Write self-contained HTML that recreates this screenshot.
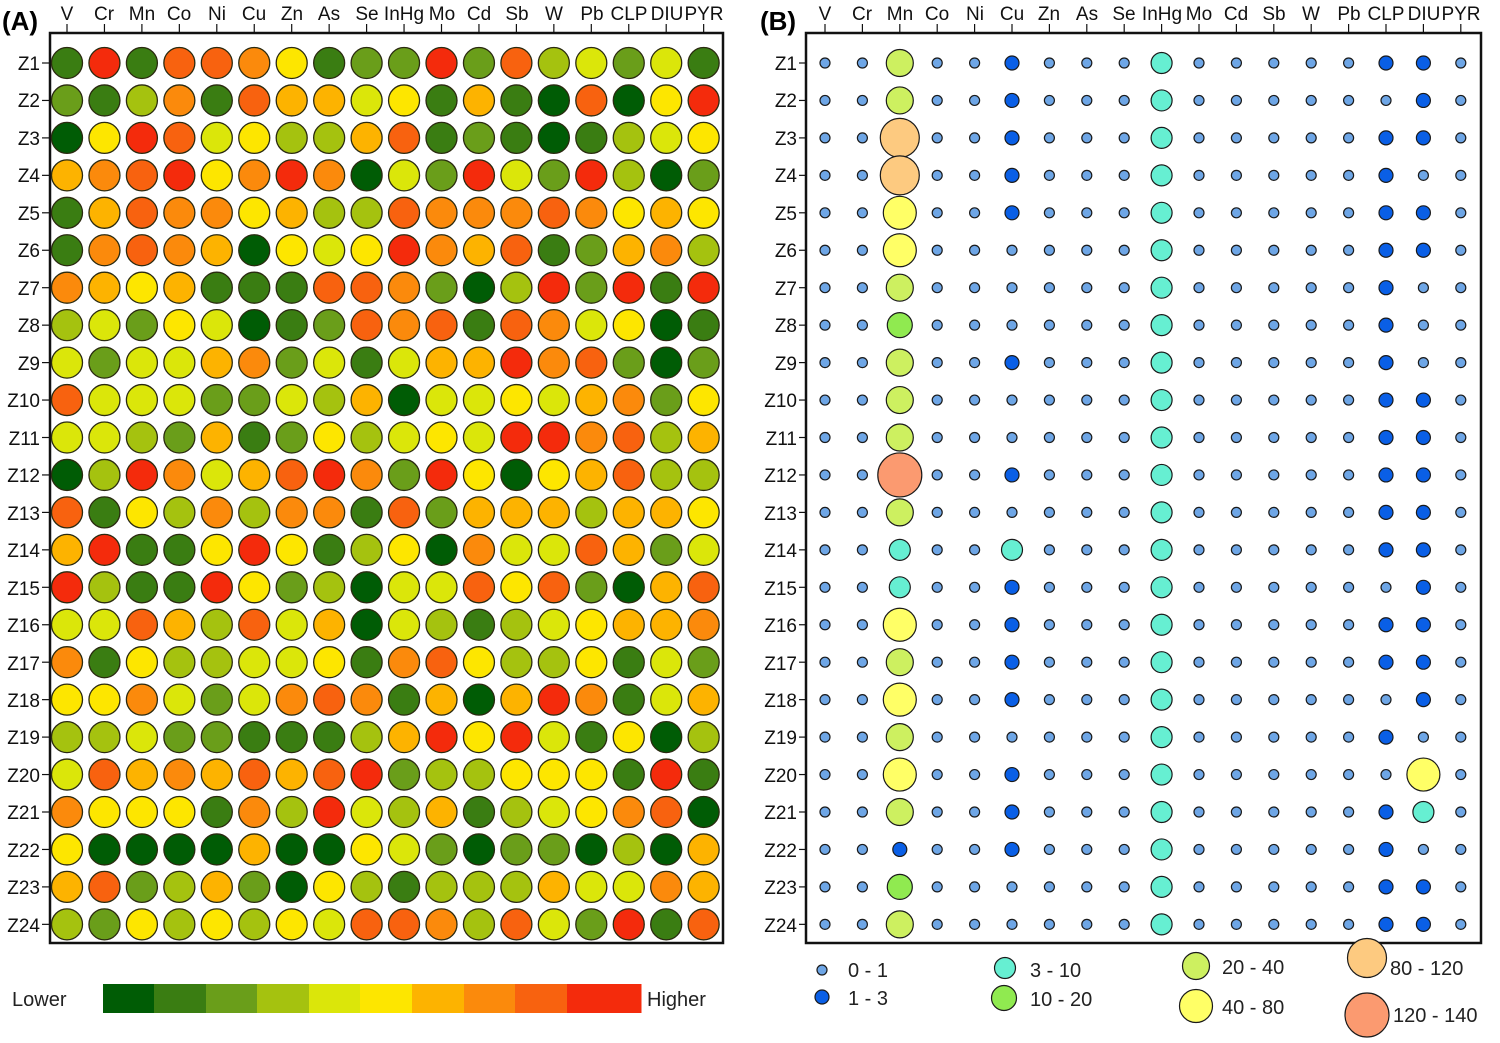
<!DOCTYPE html>
<html><head><meta charset="utf-8"><style>
html,body{margin:0;padding:0;background:#fff;}
svg{display:block;font-family:"Liberation Sans",Arial,sans-serif;}
.cl{font-size:19px;text-anchor:middle;fill:#111;}
.rl{font-size:19px;text-anchor:end;fill:#111;}
.lg{font-size:20px;fill:#222;}
</style></head><body>
<svg id="s" width="1500" height="1043" viewBox="0 0 1500 1043" xmlns="http://www.w3.org/2000/svg">
<rect width="1500" height="1043" fill="#fff"/>
<text x="2" y="30" font-size="26" font-weight="bold">(A)</text>
<text x="760" y="30" font-size="26" font-weight="bold">(B)</text>
<g class="cl">
<text x="67" y="20">V</text><text x="104" y="20">Cr</text><text x="142" y="20">Mn</text><text x="179" y="20">Co</text><text x="217" y="20">Ni</text><text x="254" y="20">Cu</text><text x="292" y="20">Zn</text><text x="329" y="20">As</text><text x="367" y="20">Se</text><text x="404" y="20">InHg</text><text x="442" y="20">Mo</text><text x="479" y="20">Cd</text><text x="517" y="20">Sb</text><text x="554" y="20">W</text><text x="592" y="20">Pb</text><text x="629" y="20">CLP</text><text x="667" y="20">DIU</text><text x="704" y="20">PYR</text>
<text x="825" y="20">V</text><text x="862" y="20">Cr</text><text x="900" y="20">Mn</text><text x="937" y="20">Co</text><text x="975" y="20">Ni</text><text x="1012" y="20">Cu</text><text x="1049" y="20">Zn</text><text x="1087" y="20">As</text><text x="1124" y="20">Se</text><text x="1162" y="20">InHg</text><text x="1199" y="20">Mo</text><text x="1236" y="20">Cd</text><text x="1274" y="20">Sb</text><text x="1311" y="20">W</text><text x="1349" y="20">Pb</text><text x="1386" y="20">CLP</text><text x="1424" y="20">DIU</text><text x="1461" y="20">PYR</text>
</g>
<g class="rl">
<text x="40" y="70">Z1</text><text x="40" y="107">Z2</text><text x="40" y="145">Z3</text><text x="40" y="182">Z4</text><text x="40" y="220">Z5</text><text x="40" y="257">Z6</text><text x="40" y="295">Z7</text><text x="40" y="332">Z8</text><text x="40" y="370">Z9</text><text x="40" y="407">Z10</text><text x="40" y="445">Z11</text><text x="40" y="482">Z12</text><text x="40" y="520">Z13</text><text x="40" y="557">Z14</text><text x="40" y="595">Z15</text><text x="40" y="632">Z16</text><text x="40" y="670">Z17</text><text x="40" y="707">Z18</text><text x="40" y="744">Z19</text><text x="40" y="782">Z20</text><text x="40" y="819">Z21</text><text x="40" y="857">Z22</text><text x="40" y="894">Z23</text><text x="40" y="932">Z24</text>
<text x="797" y="70">Z1</text><text x="797" y="107">Z2</text><text x="797" y="145">Z3</text><text x="797" y="182">Z4</text><text x="797" y="220">Z5</text><text x="797" y="257">Z6</text><text x="797" y="295">Z7</text><text x="797" y="332">Z8</text><text x="797" y="370">Z9</text><text x="797" y="407">Z10</text><text x="797" y="445">Z11</text><text x="797" y="482">Z12</text><text x="797" y="520">Z13</text><text x="797" y="557">Z14</text><text x="797" y="595">Z15</text><text x="797" y="632">Z16</text><text x="797" y="670">Z17</text><text x="797" y="707">Z18</text><text x="797" y="744">Z19</text><text x="797" y="782">Z20</text><text x="797" y="819">Z21</text><text x="797" y="857">Z22</text><text x="797" y="894">Z23</text><text x="797" y="932">Z24</text>
</g>
<rect x="50" y="33" width="673" height="910" fill="none" stroke="#111" stroke-width="2.5"/>
<rect x="806" y="33" width="675" height="910" fill="none" stroke="#111" stroke-width="2.5"/>
<g id="dyn"></g>
<text class="lg" x="12" y="1006" font-size="23">Lower</text>
<text class="lg" x="647" y="1006" font-size="23">Higher</text>
<g id="bar"></g>
<text class="lg" x="848" y="977">0 - 1</text>
<text class="lg" x="848" y="1005">1 - 3</text>
<text class="lg" x="1030" y="977">3 - 10</text>
<text class="lg" x="1030" y="1006">10 - 20</text>
<text class="lg" x="1222" y="974">20 - 40</text>
<text class="lg" x="1222" y="1014">40 - 80</text>
<text class="lg" x="1390" y="975">80 - 120</text>
<text class="lg" x="1393" y="1022">120 - 140</text>
</svg>
<script>
var NS="http://www.w3.org/2000/svg";
var dyn=document.getElementById('dyn');
function el(t,a,p){var e=document.createElementNS(NS,t);for(var k in a)e.setAttribute(k,a[k]);(p||dyn).appendChild(e);return e;}
var pal=["#005c05","#3a7d12","#6a9e1a","#a5c20f","#dbe60a","#fde600","#fdb300","#fb8a0c","#f8620f","#f42b0c"];
var A=["191887512292834241","213718664516108059","059845336812101345","678957970429429302",
"168775633877787565","178760545976812673","765611188720392919","342540128781874501",
"424467241466978202","844422436044546725","443261253454997836","039746897295056833",
"815373771826663665","691159513507448624","931195230448582068","448638460431345667",
"715334451785335142","557424787160697146","334221113695941503","486768689233555191",
"755517394361345780","500006005420220306","682362053133364476","325353548873842918"];
var ys=function(j){return 63+j*37.45;};
for(var j=0;j<24;j++){
 var y=ys(j);
 el('line',{x1:42,y1:y,x2:50,y2:y,stroke:'#111','stroke-width':1.2});
 el('line',{x1:799,y1:y,x2:806,y2:y,stroke:'#111','stroke-width':1.2});
 for(var i=0;i<18;i++){
  el('circle',{cx:67+i*37.45,cy:y,r:15.5,fill:pal[+A[j][i]],stroke:'#2a2a10','stroke-width':1.3});
 }
}
for(var i=0;i<18;i++){
 el('line',{x1:67+i*37.45,y1:24,x2:67+i*37.45,y2:33,stroke:'#111','stroke-width':1.2});
 el('line',{x1:825+i*37.4,y1:24,x2:825+i*37.4,y2:33,stroke:'#111','stroke-width':1.2});
}
var cat={a:["#6ea6e6",5],b:["#0a5fe6",7],c:["#66efd2",10.5],d:["#90ea50",12.5],e:["#cdf060",13.5],f:["#ffff66",16.5],g:["#fdca80",19.5],h:["#fb9a70",22]};
var B=[];for(var j=0;j<24;j++){B.push("aaaaaaaaacaaaaaaaa".split(""));}
var mn="eeggffedeeehecc fefefebde".replace(" ","");
for(var j=0;j<24;j++){B[j][2]=mn[j];if(j!=9)B[j][9]='c';}
[1,2,3,4,5,9,12,15,16,17,18,20,21,22].forEach(function(z){B[z-1][5]='b';});B[13][5]='c';
[1,3,4,5,6,7,8,9,10,11,12,13,14,16,17,19,21,22,23,24].forEach(function(z){B[z-1][15]='b';});
[1,2,3,5,6,10,11,12,13,14,15,16,17,18,23,24].forEach(function(z){B[z-1][16]='b';});
B[19][16]='f';B[20][16]='c';
for(var j=0;j<24;j++){for(var i=0;i<18;i++){var c=cat[B[j][i]];
 el('circle',{cx:825+i*37.4,cy:ys(j),r:c[1],fill:c[0],stroke:'#1a1a1a','stroke-width':1.2});}}
// color bar
var xs=[103,154,206,257,309,360,412,464,515,567,641];
for(var k=0;k<10;k++)el('rect',{x:xs[k],y:984,width:xs[k+1]-xs[k]+0.5,height:29,fill:pal[k]});
// B legend symbols
function lc(x,y,c){el('circle',{cx:x,cy:y,r:cat[c][1],fill:cat[c][0],stroke:'#1a1a1a','stroke-width':1.2});}
lc(822,970,'a');lc(822,997,'b');lc(1005,968,'c');lc(1004,998,'d');lc(1196,966,'e');lc(1196,1006,'f');lc(1367,958,'g');lc(1367,1015,'h');
</script>
</body></html>
